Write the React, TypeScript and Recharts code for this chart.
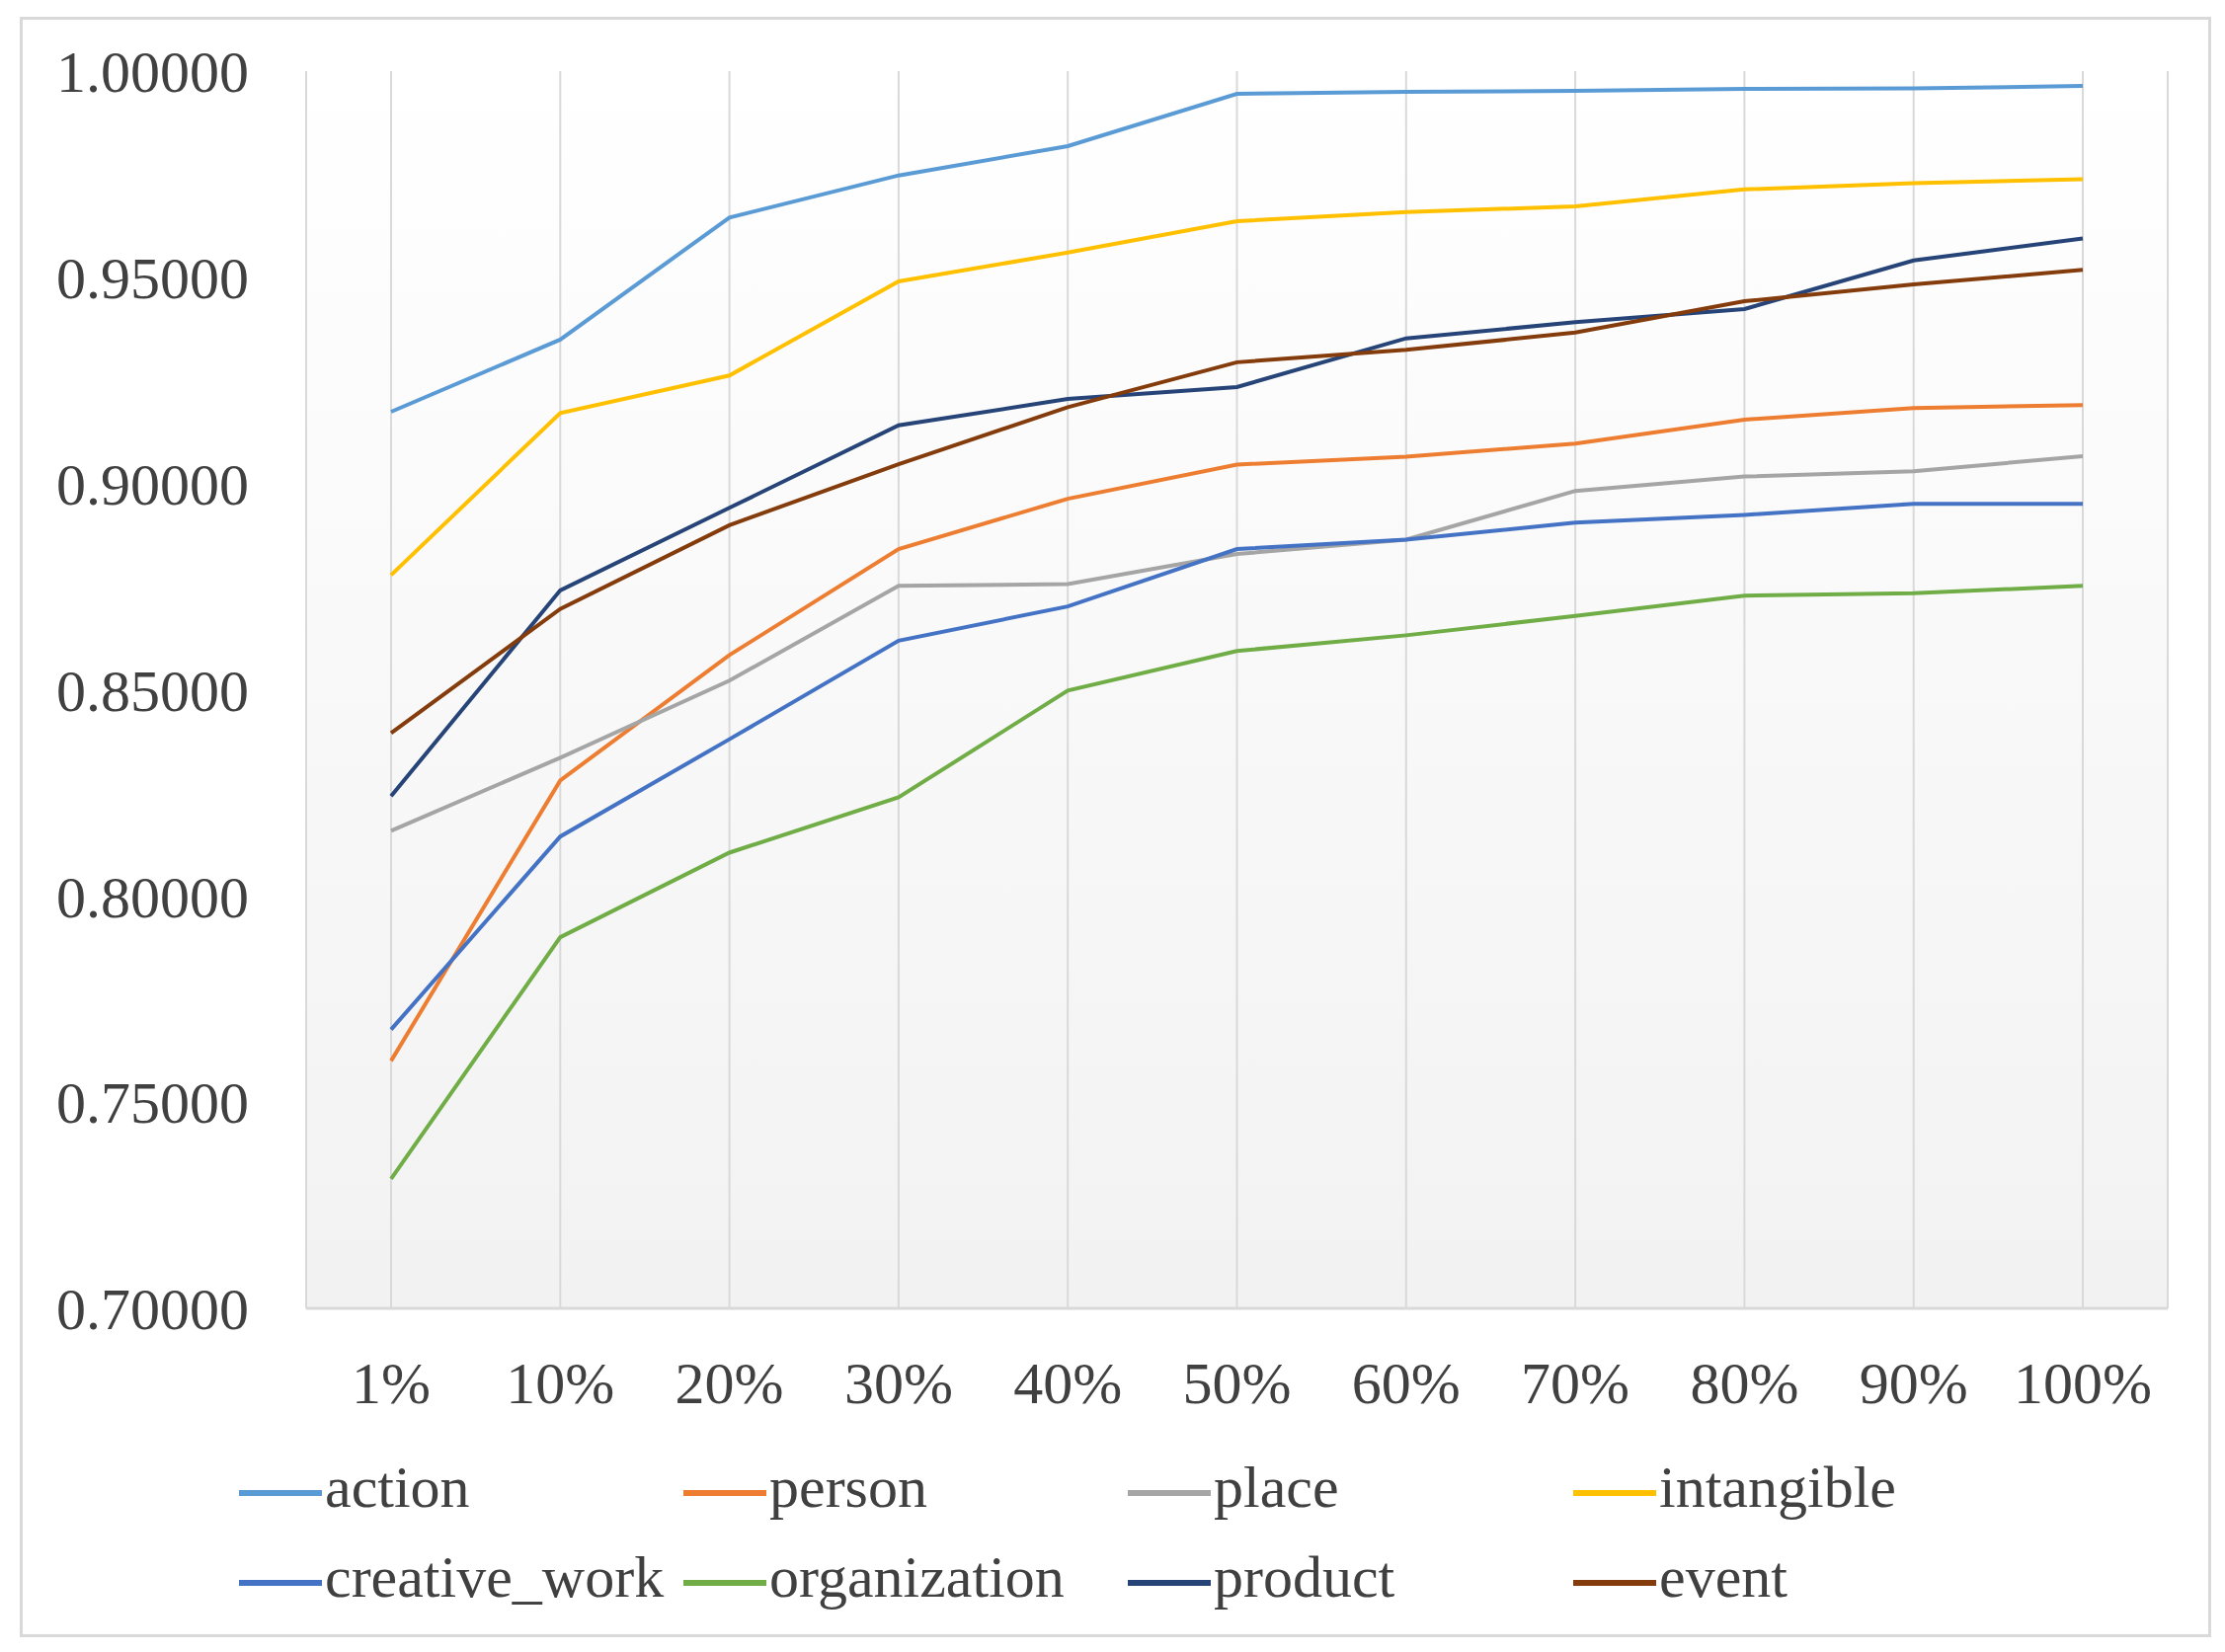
import React from 'react';
import { LineChart, Line, XAxis, YAxis, CartesianGrid } from 'recharts';

// Categories (training data fraction)
const categories = ['1%', '10%', '20%', '30%', '40%', '50%', '60%', '70%', '80%', '90%', '100%'];

// Series values
const action = [0.9174, 0.9349, 0.9645, 0.9747, 0.9818, 0.9945, 0.995, 0.9952, 0.9957, 0.9958, 0.9964];
const person = [0.76, 0.828, 0.8584, 0.8841, 0.8963, 0.9046, 0.9065, 0.9097, 0.9155, 0.9183, 0.919];
const place = [0.8158, 0.8335, 0.8522, 0.8752, 0.8756, 0.8829, 0.8864, 0.8982, 0.9017, 0.903, 0.9066];
const intangible = [0.8778, 0.9171, 0.9262, 0.949, 0.956, 0.9636, 0.9658, 0.9672, 0.9713, 0.9728, 0.9738];
const creativeWork = [0.7676, 0.8144, 0.838, 0.8619, 0.8702, 0.8841, 0.8864, 0.8905, 0.8924, 0.8951, 0.8951];
const organization = [0.7314, 0.79, 0.8105, 0.8239, 0.8498, 0.8594, 0.8632, 0.8679, 0.8728, 0.8734, 0.8752];
const product = [0.8242, 0.8741, 0.8941, 0.9141, 0.9205, 0.9234, 0.9352, 0.9391, 0.9423, 0.9541, 0.9594];
const event = [0.8395, 0.8696, 0.8899, 0.9047, 0.9185, 0.9294, 0.9324, 0.9366, 0.9442, 0.9483, 0.9518];

const yTicks = [0.7, 0.75, 0.8, 0.85, 0.9, 0.95, 1.0];

// Series definitions (drawing order = Excel order, later on top)
const SERIES = [
  { key: 'action', values: action, color: '#5B9BD5' },
  { key: 'person', values: person, color: '#ED7D31' },
  { key: 'place', values: place, color: '#A5A5A5' },
  { key: 'intangible', values: intangible, color: '#FFC000' },
  { key: 'creative_work', values: creativeWork, color: '#4472C4' },
  { key: 'organization', values: organization, color: '#70AD47' },
  { key: 'product', values: product, color: '#264478' },
  { key: 'event', values: event, color: '#843C0C' },
];

const FONT = '"Liberation Serif", "Times New Roman", serif';
const TEXT = '#404040';
const W = 2253;
const H = 1673;

const chartData = categories.map((name, i) => {
  const row: Record<string, string | number> = { name };
  SERIES.forEach((s) => {
    row[s.key] = s.values[i];
  });
  return row;
});

// legend grid: 4 columns x 2 rows
const legendCols = [242, 692, 1142, 1593];
const legendRows = [1506, 1597];

function ChartLegend() {
  return (
    <>
      {SERIES.map((s, i) => (
        <div
          key={s.key}
          style={{
            position: 'absolute',
            left: legendCols[i % 4],
            top: legendRows[Math.floor(i / 4)] - 30,
            height: 60,
            display: 'flex',
            alignItems: 'center',
            fontFamily: FONT,
            fontSize: 60,
            lineHeight: '60px',
            color: TEXT,
            whiteSpace: 'nowrap',
          }}
        >
          <span
            style={{
              display: 'inline-block',
              width: 84,
              height: 6,
              background: s.color,
              marginRight: 3,
              transform: 'translateY(6px)',
            }}
          />
          <span>{s.key}</span>
        </div>
      ))}
    </>
  );
}

export default function App() {
  return (
    <div style={{ position: 'absolute', left: 0, top: 0, width: W, height: H, background: '#fff' }}>
      {/* outer chart border */}
      <div
        style={{
          position: 'absolute',
          left: 20,
          top: 17,
          width: 2219,
          height: 1641,
          border: '3px solid #D9D9D9',
          boxSizing: 'border-box',
        }}
      />
      <div style={{ position: 'absolute', left: 0, top: 0 }}>
        <LineChart
          width={W}
          height={H}
          data={chartData}
          margin={{ top: 72, right: 58, left: 20, bottom: 198 }}
        >
          <defs>
            <linearGradient id="plotBg" x1="0" y1="0" x2="0" y2="1">
              <stop offset="0%" stopColor="#FFFFFF" />
              <stop offset="100%" stopColor="#F2F2F2" />
            </linearGradient>
          </defs>
          <CartesianGrid
            horizontal={false}
            stroke="#D9D9D9"
            strokeWidth={2}
            fill="url(#plotBg)"
            fillOpacity={1}
          />
          <XAxis
            dataKey="name"
            height={150}
            padding={{ left: 86, right: 86 }}
            tickLine={false}
            tickSize={0}
            tickMargin={53}
            axisLine={{ stroke: '#D9D9D9', strokeWidth: 3 }}
            tick={{ fill: TEXT, fontSize: 60, fontFamily: FONT }}
            interval={0}
          />
          <YAxis
            width={290}
            domain={[0.7, 1.0]}
            ticks={yTicks}
            tickFormatter={(v: number) => v.toFixed(5)}
            axisLine={false}
            tickLine={false}
            tickSize={0}
            tickMargin={58}
            tick={{ fill: TEXT, fontSize: 60, fontFamily: FONT }}
            interval={0}
          />
          {SERIES.map((s) => (
            <Line
              key={s.key}
              type="linear"
              dataKey={s.key}
              stroke={s.color}
              strokeWidth={4}
              dot={false}
              activeDot={false}
              isAnimationActive={false}
            />
          ))}
        </LineChart>
      </div>
      <ChartLegend />
    </div>
  );
}
